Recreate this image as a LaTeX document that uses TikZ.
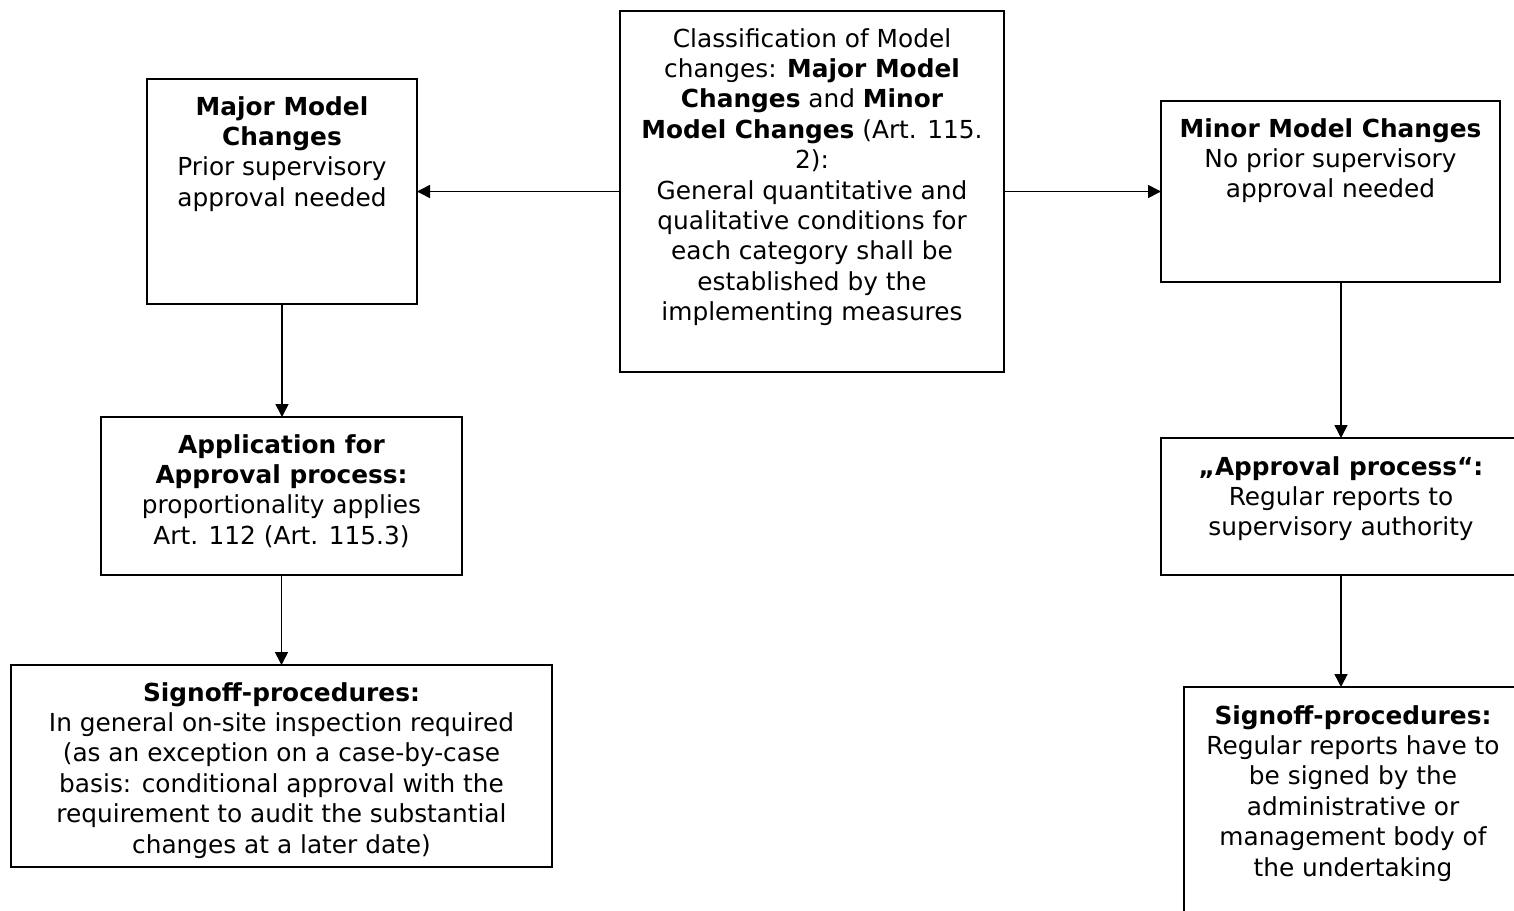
\documentclass[tikz,border=0pt]{standalone}
\usepackage{fontspec}
\setmainfont{DejaVu Sans}
\usetikzlibrary{arrows.meta}
\begin{document}
\begin{tikzpicture}[x=1pt,y=-1pt,
  box/.style={draw, line width=1.6pt, inner sep=0pt, outer sep=0pt, anchor=north west},
  txt/.style={anchor=north, align=center, inner sep=0pt, font=\fontsize{24.8}{30.4}\selectfont},
  arr/.style={line width=1.6pt, -{Triangle[length=13pt,width=13pt]}}]
\useasboundingbox (0,0) rectangle (1514,910);
\clip (0,0) rectangle (1514,910);
\node[box, minimum width=384pt, minimum height=361pt] (cls) at (620,11) {};
\node[box, minimum width=270pt, minimum height=225pt] (maj) at (147,79) {};
\node[box, minimum width=339pt, minimum height=181pt] (min) at (1161,101) {};
\node[box, minimum width=361pt, minimum height=158pt] (app) at (101,417) {};
\node[box, minimum width=541pt, minimum height=202pt] (sigL) at (11,665) {};
\node[box, minimum width=360pt, minimum height=137pt] (apr) at (1161,438) {};
\node[box, minimum width=338pt, minimum height=280pt] (sigR) at (1184,687) {};

\node[txt] (clsT) at ([yshift=-17pt]cls.north) {Classification of Model\\changes: \textbf{Major Model}\\\textbf{Changes} and \textbf{Minor}\\\textbf{Model Changes} (Art. 115.\\2):\\General quantitative and\\qualitative conditions for\\each category shall be\\established by the\\implementing measures};
\node[txt] (majT) at ([yshift=-17pt]maj.north) {\textbf{Major Model}\\\textbf{Changes}\\Prior supervisory\\approval needed};
\node[txt] (minT) at ([yshift=-17pt]min.north) {\textbf{Minor Model Changes}\\No prior supervisory\\approval needed};
\node[txt] (appT) at ([yshift=-17pt]app.north) {\textbf{Application for}\\\textbf{Approval process:}\\proportionality applies\\Art. 112 (Art. 115.3)};
\node[txt] (sigLT) at ([yshift=-17pt]sigL.north) {\textbf{Signoff-procedures:}\\In general on-site inspection required\\(as an exception on a case-by-case\\basis: conditional approval with the\\requirement to audit the substantial\\changes at a later date)};
\node[txt] (aprT) at ([yshift=-18pt]apr.north) {\textbf{„Approval process“:}\\Regular reports to\\supervisory authority};
\node[txt] (sigRT) at ([yshift=-18pt]sigR.north) {\textbf{Signoff-procedures:}\\Regular reports have to\\be signed by the\\administrative or\\management body of\\the undertaking};

\draw[arr] (cls.west) -- (maj.east);
\draw[arr] (cls.east) -- (min.west);
\draw[arr] (maj.south) -- (maj.south |- app.north);
\draw[arr] (app.south) -- (app.south |- sigL.north);
\draw[arr] (apr.north |- min.south) -- (apr.north);
\draw[arr] (apr.south) -- (apr.south |- sigR.north);
\end{tikzpicture}
\end{document}
